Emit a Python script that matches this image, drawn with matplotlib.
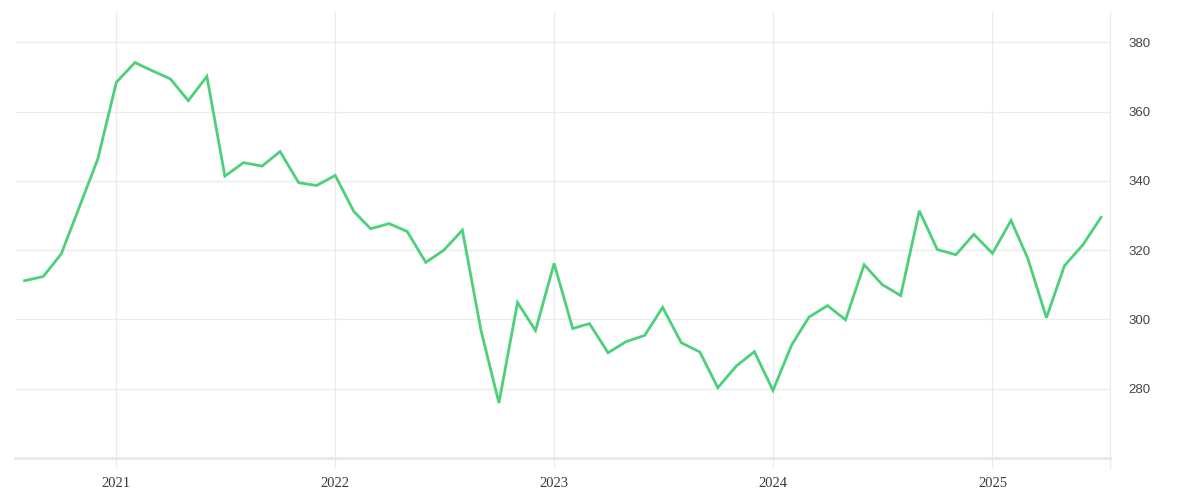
import datetime as dt
import matplotlib
matplotlib.use("Agg")
import matplotlib.pyplot as plt
import matplotlib.dates as mdates

# monthly values, Aug 2020 .. Jul 2025
start_year, start_month = 2020, 8
values = [
    311.2, 312.4, 318.9, 332.8, 346.3,
    368.5, 374.2, 371.9, 369.5, 363.2, 370.2, 341.4, 345.3, 344.3, 348.5, 339.5, 338.7,
    341.6, 331.2, 326.2, 327.7, 325.4, 316.5, 320.0, 325.8, 296.9, 275.9, 304.9, 296.8,
    316.2, 297.4, 298.8, 290.4, 293.6, 295.4, 303.5, 293.3, 290.6, 280.3, 286.6, 290.7,
    279.5, 292.6, 300.7, 304.0, 299.9, 315.8, 310.1, 306.9, 331.4, 320.2, 318.7, 324.6,
    319.1, 328.6, 317.6, 300.5, 315.5, 321.6, 329.5,
]
dates = []
for i in range(len(values)):
    m = start_month - 1 + i
    dates.append(dt.date(start_year + m // 12, m % 12 + 1, 1))

year_ticks = [2021, 2022, 2023, 2024, 2025]
y_ticks = [280, 300, 320, 340, 360, 380]

grid_c = "#ebebeb"
text_c = "#3a3a3a"

fig = plt.figure(figsize=(12, 5), dpi=100)
ax = fig.add_axes([0.0125, 0.084, 0.9125, 0.892])

ax.plot(dates, values, color="#4cd07a", lw=2.0, solid_joinstyle="miter")

ax.set_xlim(dt.date(2020, 7, 16), dt.date(2025, 7, 16))
ax.set_ylim(260, 388.8)

ax.set_xticks([dt.date(y, 1, 1) for y in year_ticks])
ax.xaxis.set_major_formatter(mdates.DateFormatter("%Y"))
ax.set_yticks(y_ticks)
ax.yaxis.tick_right()

ax.grid(True, color=grid_c, lw=0.9)
ax.set_axisbelow(True)

for s in ["top", "left"]:
    ax.spines[s].set_visible(False)
ax.spines["bottom"].set_color("#e6e6e6")
ax.spines["bottom"].set_linewidth(1.8)
ax.spines["right"].set_color(grid_c)
ax.spines["right"].set_linewidth(0.9)
ax.plot([1, 1], [-0.024, 0], transform=ax.transAxes, color=grid_c, lw=0.9, clip_on=False)

ax.tick_params(axis="x", length=7.5, width=0.9, color=grid_c, pad=6.5,
               labelsize=10.5, labelcolor=text_c)
ax.tick_params(axis="y", length=0, pad=13, labelsize=9.5, labelcolor="#444444")
for lab in ax.get_xticklabels():
    lab.set_family("Liberation Serif")
for lab in ax.get_yticklabels():
    lab.set_family("Liberation Sans")

fig.savefig("out.png", dpi=100, facecolor="white")
